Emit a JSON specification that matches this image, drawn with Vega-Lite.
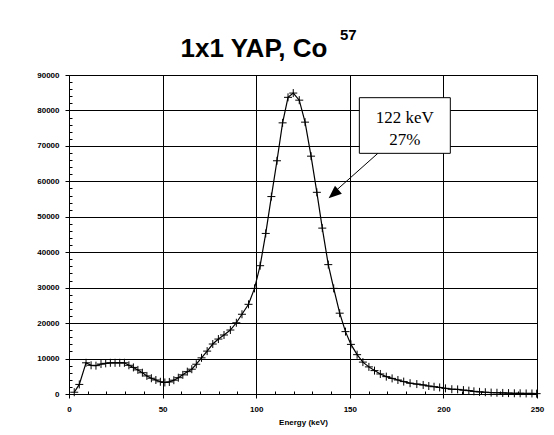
{
  "$schema": "https://vega.github.io/schema/vega-lite/v6.json",
  "width": 468,
  "height": 319,
  "autosize": {"type": "none"},
  "padding": {"left": 69, "top": 75, "right": 17, "bottom": 41},
  "background": "white",
  "title": {"text": "1x1 YAP, Co", "font": "Liberation Sans", "fontSize": 26, "fontWeight": "bold", "color": "black", "anchor": "middle", "dx": -49, "dy": 46, "offset": 12},
  "config": {
    "view": {"stroke": "#808080", "strokeWidth": 1},
    "axis": {"domainColor": "black", "tickColor": "black", "gridColor": "black", "gridWidth": 1, "labelFont": "Liberation Sans", "labelFontWeight": "bold", "labelFontSize": 8, "labelColor": "black", "titleFont": "Liberation Sans", "titleFontWeight": "bold", "titleFontSize": 8, "titleColor": "black", "labelOverlap": false, "labelBound": false, "tickCount": 200}
  },
  "datasets": {
    "spectrum": [
      {"E": 2.8, "C": 500}, {"E": 5.5, "C": 2700}, {"E": 9.1, "C": 8800}, {"E": 11.8, "C": 8100},
      {"E": 14.4, "C": 8000}, {"E": 17.1, "C": 8450}, {"E": 19.6, "C": 8650}, {"E": 22.1, "C": 8800},
      {"E": 24.6, "C": 8800}, {"E": 27.1, "C": 8800}, {"E": 29.6, "C": 8800}, {"E": 32.0, "C": 8100},
      {"E": 34.4, "C": 7500}, {"E": 36.8, "C": 6800}, {"E": 39.2, "C": 6000}, {"E": 41.6, "C": 5100},
      {"E": 44.0, "C": 4450}, {"E": 46.4, "C": 3950}, {"E": 48.8, "C": 3450}, {"E": 51.2, "C": 3250},
      {"E": 53.6, "C": 3400}, {"E": 56.0, "C": 3900}, {"E": 58.4, "C": 4600}, {"E": 60.8, "C": 5400},
      {"E": 63.2, "C": 6300}, {"E": 65.6, "C": 7000}, {"E": 68.0, "C": 8400}, {"E": 70.8, "C": 10200},
      {"E": 73.8, "C": 12100}, {"E": 76.8, "C": 14100}, {"E": 79.8, "C": 15500}, {"E": 82.8, "C": 16650},
      {"E": 86.2, "C": 18050}, {"E": 89.4, "C": 20100}, {"E": 92.4, "C": 22500}, {"E": 95.9, "C": 25300},
      {"E": 99.1, "C": 29800}, {"E": 102.1, "C": 36200}, {"E": 105.1, "C": 45300}, {"E": 108.1, "C": 55700},
      {"E": 111.1, "C": 65800}, {"E": 114.1, "C": 76500}, {"E": 117.0, "C": 83700}, {"E": 119.8, "C": 84900},
      {"E": 123.0, "C": 82900}, {"E": 126.1, "C": 76700}, {"E": 129.3, "C": 67100}, {"E": 132.4, "C": 56900},
      {"E": 135.3, "C": 46800}, {"E": 138.5, "C": 36500}, {"E": 141.4, "C": 29800}, {"E": 144.6, "C": 22800},
      {"E": 147.7, "C": 17600}, {"E": 150.6, "C": 14000}, {"E": 153.9, "C": 11100}, {"E": 157.0, "C": 9000},
      {"E": 160.2, "C": 7650}, {"E": 163.2, "C": 6600}, {"E": 166.3, "C": 5650}, {"E": 169.5, "C": 4900},
      {"E": 172.6, "C": 4400}, {"E": 175.7, "C": 3950}, {"E": 178.8, "C": 3500}, {"E": 182.2, "C": 3050},
      {"E": 185.8, "C": 2800}, {"E": 189.2, "C": 2550}, {"E": 192.2, "C": 2250}, {"E": 195.0, "C": 2050},
      {"E": 198.0, "C": 1850}, {"E": 201.1, "C": 1600}, {"E": 204.5, "C": 1350}, {"E": 207.6, "C": 1300},
      {"E": 210.7, "C": 1100}, {"E": 213.6, "C": 950}, {"E": 216.3, "C": 750}, {"E": 219.3, "C": 600},
      {"E": 222.4, "C": 500}, {"E": 225.5, "C": 400}, {"E": 228.6, "C": 350}, {"E": 231.7, "C": 300},
      {"E": 234.8, "C": 250}, {"E": 237.9, "C": 200}, {"E": 241.0, "C": 200}, {"E": 244.2, "C": 150},
      {"E": 247.3, "C": 150}, {"E": 249.8, "C": 100}
    ],
    "box": [{"E": 155.1, "E2": 203.7, "C": 67900, "C2": 83600}],
    "arrow": [{"E": 165.2, "C": 68000, "E2": 140.5, "C2": 56400}],
    "head": [{"E": 138.7, "C": 55200}],
    "labels": [{"E": 179.4, "C": 77900, "label": "122 keV"}, {"E": 179.4, "C": 71700, "label": "27%"}],
    "sup": [{"E": 149.2, "C": 101200, "label": "57"}]
  },
  "layer": [
    {
      "data": {"name": "spectrum"},
      "mark": {"type": "line", "color": "black", "strokeWidth": 1.2},
      "encoding": {
        "x": {"field": "E", "type": "quantitative", "scale": {"domain": [0, 250], "nice": false},
          "axis": {"title": "Energy (keV)", "tickCount": 200, "values": [0,10,20,30,40,50,60,70,80,90,100,110,120,130,140,150,160,170,180,190,200,210,220,230,240,250],
            "format": "d", "labelExpr": "datum.value % 50 === 0 ? datum.label : ''",
            "gridOpacity": {"condition": {"test": "datum.value % 50 === 0", "value": 1}, "value": 0},
            "tickSize": {"condition": {"test": "datum.value % 50 === 0", "value": 4}, "value": -3},
            "labelPadding": 7, "titlePadding": 5, "labelFlush": false}},
        "y": {"field": "C", "type": "quantitative", "scale": {"domain": [0, 90000], "nice": false},
          "axis": {"title": null, "tickCount": 200, "values": [0,2000,4000,6000,8000,10000,12000,14000,16000,18000,20000,22000,24000,26000,28000,30000,32000,34000,36000,38000,40000,42000,44000,46000,48000,50000,52000,54000,56000,58000,60000,62000,64000,66000,68000,70000,72000,74000,76000,78000,80000,82000,84000,86000,88000,90000],
            "format": "d", "labelExpr": "datum.value % 10000 === 0 ? datum.label : ''",
            "gridOpacity": {"condition": {"test": "datum.value % 10000 === 0", "value": 1}, "value": 0},
            "tickSize": {"condition": {"test": "datum.value % 10000 === 0", "value": 4}, "value": -3},
            "labelPadding": 6, "labelFlush": false}}
      }
    },
    {
      "data": {"name": "spectrum"},
      "mark": {"type": "point", "shape": "M-1,0L1,0M0,-1L0,1", "filled": false, "stroke": "black", "strokeWidth": 1, "size": 64, "opacity": 1},
      "encoding": {
        "x": {"field": "E", "type": "quantitative"},
        "y": {"field": "C", "type": "quantitative"}
      }
    },
    {
      "data": {"name": "arrow"},
      "mark": {"type": "rule", "color": "black", "strokeWidth": 1},
      "encoding": {
        "x": {"field": "E", "type": "quantitative"},
        "y": {"field": "C", "type": "quantitative"},
        "x2": {"field": "E2"},
        "y2": {"field": "C2"}
      }
    },
    {
      "data": {"name": "head"},
      "mark": {"type": "point", "shape": "M0,0L0.4,1L-0.4,1Z", "filled": true, "color": "black", "size": 676, "angle": 228.7, "opacity": 1},
      "encoding": {
        "x": {"field": "E", "type": "quantitative"},
        "y": {"field": "C", "type": "quantitative"}
      }
    },
    {
      "data": {"name": "box"},
      "mark": {"type": "rect", "fill": "white", "stroke": "black", "strokeWidth": 1},
      "encoding": {
        "x": {"field": "E", "type": "quantitative"},
        "x2": {"field": "E2"},
        "y": {"field": "C", "type": "quantitative"},
        "y2": {"field": "C2"}
      }
    },
    {
      "data": {"name": "labels"},
      "mark": {"type": "text", "font": "Liberation Serif", "fontSize": 17, "color": "black"},
      "encoding": {
        "x": {"field": "E", "type": "quantitative"},
        "y": {"field": "C", "type": "quantitative"},
        "text": {"field": "label"}
      }
    },
    {
      "data": {"name": "sup"},
      "mark": {"type": "text", "font": "Liberation Sans", "fontSize": 15, "fontWeight": "bold", "color": "black"},
      "encoding": {
        "x": {"field": "E", "type": "quantitative"},
        "y": {"field": "C", "type": "quantitative"},
        "text": {"field": "label"}
      }
    }
  ]
}
